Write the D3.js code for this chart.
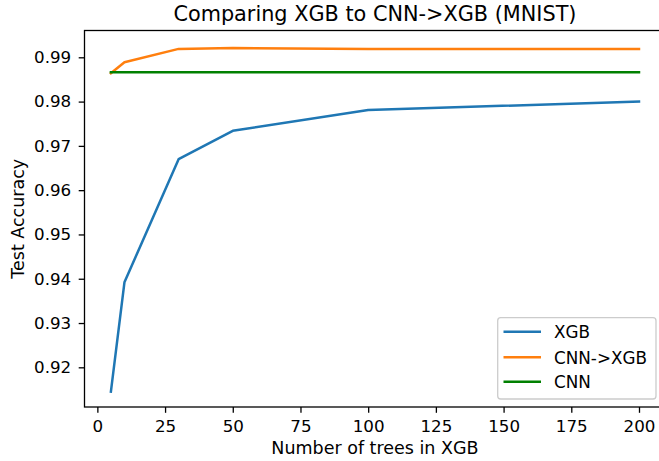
<!DOCTYPE html>
<html><head><meta charset="utf-8">
<script src="https://cdn.jsdelivr.net/npm/d3@7"></script>
<style>body{margin:0;background:#fff;} svg{display:block;font-family:"DejaVu Sans",sans-serif;}</style>
</head><body>
<script>
const trees = [5, 10, 30, 50, 100, 200];
const xgb = [0.9145, 0.9392, 0.9670, 0.9734, 0.9781, 0.9800];
const cnnXgb = [0.9864, 0.9889, 0.9919, 0.9921, 0.9919, 0.9919];
const cnn = [0.9866, 0.9866, 0.9866, 0.9866, 0.9866, 0.9866];
const xTicks = [0, 25, 50, 75, 100, 125, 150, 175, 200];
const yTicks = [0.92, 0.93, 0.94, 0.95, 0.96, 0.97, 0.98, 0.99];
const seriesNames = ["XGB", "CNN->XGB", "CNN"];
const colors = ["#1f77b4", "#ff7f0e", "#008000"];

const W = 659, H = 461;
const L = 84.5, T = 30.5, R = 665.4, B = 407;
const svg = d3.select("body").append("svg").attr("width", W).attr("height", H);
const x = d3.scaleLinear().domain([-4.75, 209.75]).range([L, R]);
const y = d3.scaleLinear().domain([0.91104, 0.99594]).range([B, T + 0.5]);

const series = [xgb, cnnXgb, cnn];
const line = d3.line().x((d, i) => x(trees[i])).y(d => y(d));
series.forEach((s, k) => {
  svg.append("path").datum(s).attr("d", line)
    .attr("fill", "none").attr("stroke", colors[k]).attr("stroke-width", 2.5)
    .attr("stroke-linejoin", "round").attr("stroke-linecap", "square");
});

// axes
const xa = svg.append("g").attr("transform", `translate(0,${B})`)
  .call(d3.axisBottom(x).tickValues(xTicks).tickSize(5.8).tickPadding(6).tickFormat(d3.format("d")));
const ya = svg.append("g").attr("transform", `translate(${L},0)`)
  .call(d3.axisLeft(y).tickValues(yTicks).tickSize(5.8).tickPadding(7.5).tickFormat(d3.format(".2f")));
[xa, ya].forEach(g => {
  g.select(".domain").remove();
  g.selectAll("line").attr("stroke", "#000").attr("stroke-width", 1.3);
  g.selectAll("text").attr("font-size", "16.7px").attr("fill", "#000")
    .attr("font-family", "DejaVu Sans");
});
xa.selectAll("text").attr("dy", "0").attr("y", 25.3);
// spines
svg.append("rect").attr("x", L).attr("y", T).attr("width", R - L).attr("height", B - T)
  .attr("fill", "none").attr("stroke", "#000").attr("stroke-width", 1.3);

// title & labels
svg.append("text").attr("x", (L + R) / 2).attr("y", 20.8).attr("text-anchor", "middle")
  .attr("font-size", "20.8px").text("Comparing XGB to CNN->XGB (MNIST)");
svg.append("text").attr("x", (L + R) / 2).attr("y", 454.3).attr("text-anchor", "middle")
  .attr("font-size", "17.5px").text("Number of trees in XGB");
svg.append("text").attr("transform", `translate(24.3,${(T + B) / 2}) rotate(-90)`)
  .attr("text-anchor", "middle").attr("font-size", "17.5px").text("Test Accuracy");

// legend
const lg = svg.append("g");
lg.append("rect").attr("x", 497.7).attr("y", 317.7).attr("width", 158.3).attr("height", 81.3)
  .attr("rx", 3).attr("fill", "#fff").attr("fill-opacity", 0.8)
  .attr("stroke", "#cccccc").attr("stroke-width", 1.3);
const ly = [331.7, 357.3, 381.7];
seriesNames.forEach((n, k) => {
  lg.append("line").attr("x1", 503.5).attr("x2", 541).attr("y1", ly[k]).attr("y2", ly[k])
    .attr("stroke", colors[k]).attr("stroke-width", 2.5);
  lg.append("text").attr("x", 554).attr("y", ly[k] + 6.3).attr("font-size", "16.8px").text(n);
});
</script>
</body></html>
